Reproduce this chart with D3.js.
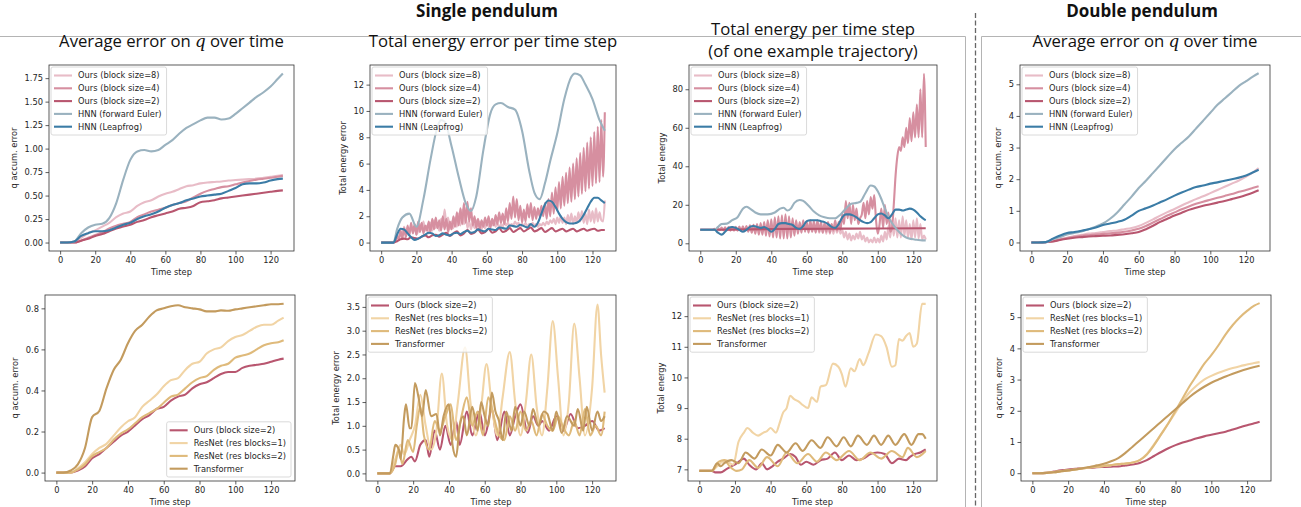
<!DOCTYPE html>
<html>
<head>
<meta charset="utf-8">
<script src="https://cdnjs.cloudflare.com/ajax/libs/d3/7.8.5/d3.min.js"></script>
<style>
  body { margin: 0; background: #fff; }
  svg text { font-family: "DejaVu Sans", sans-serif; }
</style>
</head>
<body>
<div id="fig"></div>
<script>
// SVG layout
var svgWidth = 1301;
var svgHeight = 507;

var xTicks = [0, 20, 40, 60, 80, 100, 120];
var xDomain = [-6.35, 133.35];

var colors = {
  ours8: "#e8bcc7",
  ours4: "#d68fa0",
  ours2: "#b8566f",
  euler: "#9ab2bf",
  leap: "#3b7ca6",
  res1: "#f1d4a5",
  res2: "#dfba7b",
  trans: "#c39b5e"
};

var names = {
  ours8: "Ours (block size=8)",
  ours4: "Ours (block size=4)",
  ours2: "Ours (block size=2)",
  euler: "HNN (forward Euler)",
  leap: "HNN (Leapfrog)",
  res1: "ResNet (res blocks=1)",
  res2: "ResNet (res blocks=2)",
  trans: "Transformer"
};

// sampled time steps used by the smooth curves
var stepsCoarse = [0, 4, 8, 12, 16, 20, 24, 28, 32, 36, 40, 44, 48, 52, 56, 60, 64,
  68, 72, 76, 80, 84, 88, 92, 96, 100, 104, 108, 112, 116, 120, 124, 127];
var stepsAll = d3.range(128);

// ---- single pendulum, average error on q ----
var sqOurs8 = [0, 0, 0.01, 0.05, 0.1, 0.13, 0.17, 0.21, 0.27, 0.31, 0.33, 0.39, 0.43, 0.45, 0.49, 0.52, 0.54,
  0.57, 0.6, 0.61, 0.63, 0.64, 0.645, 0.65, 0.66, 0.665, 0.67, 0.675, 0.68, 0.69, 0.70, 0.71, 0.72];
var sqOurs4 = [0, 0, 0, 0.02, 0.05, 0.08, 0.11, 0.15, 0.18, 0.2, 0.22, 0.27, 0.3, 0.33, 0.35, 0.37, 0.4,
  0.42, 0.44, 0.48, 0.52, 0.55, 0.57, 0.59, 0.6, 0.62, 0.64, 0.655, 0.67, 0.68, 0.69, 0.70, 0.71];
var sqOurs2 = [0, 0, 0, 0.02, 0.04, 0.07, 0.09, 0.12, 0.15, 0.17, 0.19, 0.22, 0.24, 0.27, 0.29, 0.31, 0.33,
  0.36, 0.37, 0.39, 0.43, 0.44, 0.45, 0.47, 0.48, 0.49, 0.50, 0.51, 0.52, 0.53, 0.54, 0.55, 0.555];
var sqEuler = [0, 0, 0.01, 0.1, 0.16, 0.19, 0.2, 0.26, 0.42, 0.67, 0.88, 0.97, 0.985, 0.97, 0.985, 1.04, 1.09,
  1.16, 1.22, 1.26, 1.3, 1.33, 1.33, 1.31, 1.32, 1.37, 1.43, 1.49, 1.55, 1.6, 1.66, 1.74, 1.8];
var sqLeap = [0, 0, 0.01, 0.07, 0.1, 0.12, 0.12, 0.13, 0.16, 0.19, 0.21, 0.25, 0.28, 0.3, 0.33, 0.37, 0.4,
  0.42, 0.45, 0.47, 0.49, 0.5, 0.51, 0.52, 0.55, 0.58, 0.62, 0.63, 0.63, 0.64, 0.66, 0.675, 0.68];

// ---- single pendulum, total energy error ----
var seOurs8 = [0, 0, 0, 0, 0, 0, 0, 0,
  0.2, 0.6, 0.3, 0.9, 0.6, 1.2, 0.7, 1.0,
  0.6, 1.3, 0.8, 1.2, 0.6, 0.9, 1.4, 1.0,
  1.6, 0.9, 1.3, 0.7, 1.5, 0.9, 1.7, 1.1,
  1.5, 0.9, 1.8, 1.2, 2.5, 1.4, 1.9, 1.0,
  1.6, 1.1, 1.9, 1.2, 2.2, 1.3, 2.5, 1.4,
  2.0, 1.1, 1.6, 1.0, 1.5, 1.1, 1.7, 1.2,
  1.6, 1.0, 1.4, 1.1, 1.5, 1.2, 1.6, 1.3,
  1.7, 1.2, 1.5, 1.1, 1.4, 1.2, 1.6, 1.3,
  1.5, 1.2, 1.4, 1.3, 1.6, 1.4, 1.5, 1.2,
  1.4, 1.3, 1.5, 1.2, 1.4, 1.3, 1.5, 1.3,
  1.4, 1.2, 1.4, 1.3, 1.5, 1.3, 1.6, 1.4,
  1.7, 1.5, 1.8, 1.4, 1.9, 1.5, 2.0, 1.5,
  1.9, 1.4, 2.1, 1.5, 2.2, 1.4, 2.0, 1.5,
  2.3, 1.6, 2.4, 1.5, 2.2, 1.4, 2.5, 1.6,
  2.4, 1.5, 2.6, 1.6, 2.3, 1.7, 1.6, 3.2];
var seOurs4 = [0, 0, 0, 0, 0, 0, 0, 0,
  0.1, 0.5, 0.2, 0.9, 0.3, 1.1, 0.4, 1.3,
  0.6, 1.5, 0.7, 1.4, 0.6, 1.6, 0.8, 1.5,
  0.7, 1.3, 0.9, 1.6, 0.8, 1.8, 1.0, 1.9,
  1.1, 1.7, 0.9, 2.0, 1.0, 1.8, 0.8, 1.6,
  1.0, 2.0, 1.2, 2.3, 1.3, 2.6, 1.4, 3.0,
  1.5, 3.1, 1.6, 2.6, 1.3, 2.0, 1.1, 1.8,
  1.0, 1.7, 1.2, 1.9, 1.3, 2.0, 1.1, 1.8,
  1.3, 2.1, 1.4, 2.3, 1.5, 2.2, 1.4, 2.6,
  1.6, 3.0, 1.8, 3.5, 1.9, 3.3, 1.7, 2.8,
  1.5, 2.5, 1.6, 2.9, 1.9, 3.0, 1.7, 2.7,
  1.8, 2.6, 2.0, 2.8, 2.0, 3.0, 1.8, 3.3,
  2.0, 3.8, 2.2, 4.2, 2.4, 4.6, 2.6, 5.0,
  2.8, 5.3, 3.0, 5.7, 3.1, 6.0, 3.3, 6.4,
  3.5, 6.8, 3.7, 7.2, 3.9, 7.6, 4.1, 8.0,
  4.3, 8.4, 4.5, 8.8, 4.6, 9.3, 5.0, 9.9];
var seOurs2Steps = [0, 7, 9, 11, 13, 15, 17, 19, 21, 23, 25, 27, 29, 31, 33, 35, 37, 39, 41, 43, 45, 47, 49,
  51, 53, 55, 57, 59, 61, 63, 65, 67, 69, 71, 73, 75, 77, 79, 81, 83, 85, 87, 89, 91, 93, 95, 97, 99,
  101, 103, 105, 107, 109, 111, 113, 115, 117, 119, 121, 123, 125, 127];
var seOurs2 = [0, 0, 0.1, 0.25, 0.3, 0.25, 0.4, 0.35, 0.3, 0.45, 0.55, 0.4, 0.55, 0.6, 0.45, 0.6, 0.75, 0.5,
  0.7, 0.85, 0.55, 0.7, 0.95, 0.65, 0.75, 1.0, 0.7, 0.8, 1.05, 0.75, 0.85, 1.1, 0.8, 0.9, 1.1, 0.8, 0.95,
  1.1, 0.85, 1.0, 1.15, 0.85, 0.95, 1.1, 0.8, 0.95, 1.1, 0.85, 0.95, 1.05, 0.85, 0.95, 1.05, 0.85, 0.95,
  1.05, 0.9, 1.0, 1.05, 0.9, 0.95, 0.95];
var seEulerSteps = [0, 7, 9, 12, 16, 20, 24, 28, 32, 34, 36, 40, 44, 48, 51, 54, 58, 62, 65, 68, 72, 76,
  80, 84, 87, 90, 93, 96, 100, 104, 108, 110, 113, 116, 120, 124, 127];
var seEuler = [0, 0, 1.0, 1.9, 2.2, 1.2, 3.3, 6.3, 8.8, 9.3, 9.2, 7.3, 5.0, 3.0, 2.4, 3.5, 7.0, 9.8, 10.5,
  10.6, 10.3, 10.1, 8.5, 5.5, 3.8, 3.3, 4.5, 6.2, 8.3, 10.9, 12.6, 12.85, 12.7, 12.0, 10.9, 9.3, 8.5];
var seLeapSteps = [0, 7, 9, 11, 13, 15, 17, 19, 21, 23, 25, 27, 29, 31, 33, 35, 37, 39, 41, 43, 45, 47, 49,
  51, 53, 55, 57, 59, 61, 63, 65, 67, 69, 71, 73, 75, 77, 79, 81, 83, 85, 87, 89, 91, 93, 95, 97, 99,
  101, 103, 105, 107, 109, 111, 113, 115, 117, 119, 121, 123, 125, 127];
var seLeap = [0, 0, 0.6, 1.05, 1.0, 0.7, 0.4, 0.2, 0.3, 0.45, 0.6, 0.75, 0.7, 0.5, 0.55, 0.7, 0.6, 0.55,
  0.7, 0.75, 0.65, 0.8, 0.9, 0.75, 0.8, 1.0, 0.9, 0.85, 1.05, 1.0, 0.95, 1.15, 1.1, 1.05, 1.3, 1.25,
  1.2, 1.35, 1.25, 1.15, 1.4, 1.2, 1.5, 2.2, 2.9, 3.2, 3.1, 2.7, 2.2, 1.8, 1.55, 1.45, 1.45, 1.5, 1.7,
  2.1, 2.6, 3.1, 3.4, 3.4, 3.2, 3.0];

// ---- single pendulum, total energy of one trajectory ----
var stOurs8Steps = [0, 20, 40, 58].concat(d3.range(60, 128));
var stOurs8 = [7, 7, 7.3, 7.5,
  8, 6.5, 8.5, 6, 9, 6, 9.5, 5.5, 9.5, 5.5, 10, 5, 10, 5, 9.5, 5, 9, 5.5, 8.5, 5,
  7, 3, 6, 2, 5, 1.5, 4, 2, 5, 2.5, 6, 2, 4, 1, 3, 0.5, 2, 0.5, 3, 0.5,
  2.5, 0.5, 4, 1, 6, 2, 9, 3, 12, 4, 13, 3, 12, 3, 14, 4, 12, 3, 10, 2,
  12, 3, 13, 2.5, 10, 2, 4, 2];
var stOurs4 = [7, 7, 7, 7, 7, 7, 7, 7,
  7.5, 6.8, 8.0, 6.8, 8.2, 6.7, 8.3, 6.7,
  8.4, 6.6, 8.5, 6.6, 8.6, 6.5, 8.7, 6.4,
  8.8, 6.3, 9.0, 6.0, 9.3, 5.5, 9.6, 5.0,
  10.0, 4.5, 10.5, 4.5, 11.0, 4.0, 12.0, 3.5,
  12.5, 3.0, 13.5, 3.0, 14.0, 2.5, 14.5, 2.5,
  15.0, 2.5, 14.0, 3.0, 13.0, 4.0, 12.0, 5.0,
  11.0, 5.5, 12.0, 6.0, 11.0, 5.5, 12.0, 6.0,
  11.5, 5.5, 12.0, 6.0, 11.0, 5.5, 10.5, 6.0,
  11.0, 5.5, 10.0, 6.5, 12.0, 6.5, 11.0, 7.0,
  15.0, 10.0, 22.0, 13.0, 21.0, 10.0, 20.0, 12.0,
  18.0, 10.0, 13.0, 15.0, 21.0, 13.0, 22.0, 15.0,
  24.0, 18.0, 25.0, 12.0, 5.0, 10.0, 18.0, 8.0,
  20.0, 10.0, 16.0, 6.0, 8.0, 20.0, 35.0, 45.0,
  50.0, 48.0, 55.0, 50.0, 60.0, 52.0, 65.0, 53.0,
  68.0, 55.0, 72.0, 55.0, 80.0, 55.0, 88.0, 50.0];
var stOurs2Steps = [0, 10, 20, 40, 60, 80, 100, 127];
var stOurs2 = [7, 7, 7.2, 7.4, 7.5, 7.6, 7.7, 7.8];
var stEulerSteps = [0, 8, 10, 12, 15, 18, 21, 24, 26, 28, 31, 34, 38, 42, 45, 47, 49, 51, 53, 56, 58, 61,
  64, 67, 70, 73, 76, 79, 82, 85, 88, 90, 93, 96, 98, 100, 102, 104, 107, 110, 113, 116, 119, 122, 125, 127];
var stEuler = [7, 7, 8.5, 10, 10.2, 12, 13.5, 18, 19, 18, 16, 15, 15, 16, 18, 18.5, 17, 18, 21, 22.5, 22,
  19.5, 16.5, 14.5, 13.5, 13, 13, 15, 18, 20.5, 21, 21.5, 26, 30, 29.5, 27, 23, 18, 12, 8, 5, 3, 2.2,
  1.8, 1.5, 1.5];
var stLeapSteps = [0, 8, 10, 12, 14, 16, 18, 20, 22, 24, 26, 28, 30, 32, 34, 36, 38, 40, 42, 44, 46, 48, 50,
  52, 54, 56, 58, 60, 62, 64, 66, 68, 70, 72, 74, 76, 78, 80, 82, 84, 86, 88, 90, 92, 94, 96, 98, 100,
  102, 104, 106, 108, 110, 112, 114, 116, 118, 120, 122, 124, 126, 127];
var stLeap = [7, 7, 5.5, 4.5, 6, 8, 8.5, 8, 7, 6, 7, 8.5, 9, 8.5, 8, 8.5, 7.5, 6, 7.5, 10, 10.5, 10.5, 10,
  9.5, 8, 7.5, 9, 11.5, 12, 12, 12, 11.5, 11, 10, 8.5, 8, 10, 13.5, 15, 15, 14.5, 13.5, 12, 11, 10.5,
  11, 13, 15, 15.5, 14.5, 13, 15, 17.5, 17.5, 17, 17.5, 18, 17.5, 16, 14, 12.5, 12];

// ---- double pendulum, average error on q ----
var dqOurs8 = [0, 0, 0.01, 0.04, 0.1, 0.15, 0.2, 0.24, 0.28, 0.3, 0.33, 0.36, 0.38, 0.42, 0.46, 0.52, 0.62,
  0.73, 0.85, 0.96, 1.06, 1.17, 1.27, 1.37, 1.46, 1.56, 1.66, 1.76, 1.86, 1.96, 2.08, 2.22, 2.35];
var dqOurs4 = [0, 0, 0.01, 0.04, 0.09, 0.14, 0.18, 0.21, 0.23, 0.25, 0.27, 0.29, 0.31, 0.34, 0.38, 0.43, 0.52,
  0.63, 0.74, 0.85, 0.95, 1.05, 1.14, 1.22, 1.29, 1.35, 1.41, 1.47, 1.53, 1.6, 1.66, 1.73, 1.78];
var dqOurs2 = [0, 0, 0.01, 0.03, 0.08, 0.12, 0.15, 0.17, 0.19, 0.2, 0.21, 0.22, 0.24, 0.26, 0.29, 0.33, 0.42,
  0.53, 0.65, 0.75, 0.85, 0.94, 1.03, 1.1, 1.16, 1.21, 1.26, 1.31, 1.37, 1.43, 1.5, 1.58, 1.65];
var dqEuler = [0, 0, 0.01, 0.1, 0.17, 0.25, 0.3, 0.35, 0.42, 0.5, 0.6, 0.75, 0.95, 1.2, 1.45, 1.72, 1.95,
  2.2, 2.45, 2.7, 2.95, 3.15, 3.35, 3.6, 3.85, 4.1, 4.35, 4.55, 4.75, 4.95, 5.1, 5.25, 5.35];
var dqLeap = [0, 0, 0.01, 0.12, 0.22, 0.3, 0.33, 0.37, 0.42, 0.47, 0.55, 0.6, 0.65, 0.72, 0.85, 1.0, 1.08,
  1.17, 1.27, 1.37, 1.48, 1.58, 1.67, 1.75, 1.8, 1.86, 1.9, 1.95, 2.0, 2.05, 2.12, 2.22, 2.3];

// ---- baselines: single pendulum, average error on q ----
var bqOurs2 = [0, 0, 0, 0.01, 0.03, 0.07, 0.09, 0.12, 0.15, 0.18, 0.2, 0.23, 0.26, 0.28, 0.31, 0.32, 0.35,
  0.37, 0.38, 0.41, 0.43, 0.44, 0.46, 0.48, 0.49, 0.49, 0.51, 0.52, 0.525, 0.53, 0.54, 0.55, 0.555];
var bqRes1 = [0, 0, 0, 0.02, 0.05, 0.09, 0.12, 0.14, 0.18, 0.22, 0.25, 0.27, 0.32, 0.35, 0.38, 0.42, 0.45,
  0.46, 0.5, 0.53, 0.54, 0.58, 0.6, 0.61, 0.64, 0.66, 0.67, 0.69, 0.71, 0.72, 0.72, 0.74, 0.755];
var bqRes2 = [0, 0, 0, 0.015, 0.04, 0.08, 0.1, 0.12, 0.16, 0.19, 0.21, 0.24, 0.27, 0.29, 0.31, 0.34, 0.37,
  0.38, 0.41, 0.44, 0.46, 0.47, 0.5, 0.52, 0.53, 0.56, 0.57, 0.58, 0.6, 0.62, 0.63, 0.635, 0.645];
var bqTrans = [0, 0, 0.01, 0.04, 0.12, 0.27, 0.3, 0.41, 0.5, 0.55, 0.63, 0.69, 0.72, 0.76, 0.79, 0.80, 0.81,
  0.815, 0.805, 0.80, 0.795, 0.785, 0.785, 0.79, 0.788, 0.795, 0.80, 0.805, 0.81, 0.815, 0.82, 0.82, 0.822];

// ---- baselines: single pendulum, total energy error ----
var beOurs2Steps = [0, 7, 10, 13, 17, 19, 21, 24, 27, 29, 32, 35, 38, 41, 44, 46, 50, 53, 57, 60, 64, 67, 71,
  74, 77, 80, 84, 87, 90, 92, 96, 100, 104, 108, 112, 116, 120, 124, 127];
var beOurs2 = [0, 0, 0.15, 0.15, 0.3, 0.35, 0.25, 0.6, 0.7, 0.35, 0.9, 0.5, 1.0, 0.6, 1.1, 0.6, 1.3, 0.8, 1.3,
  0.8, 1.35, 0.7, 1.3, 0.8, 1.2, 1.45, 0.85, 1.2, 1.0, 1.1, 0.9, 1.2, 0.9, 1.25, 0.95, 1.0, 1.1, 0.9, 0.95];
var beRes1Steps = [0, 7, 10, 13, 15, 18, 21, 24, 27, 30, 33, 36, 39, 42, 45, 49, 52, 55, 58, 61, 64, 67, 70,
  74, 77, 80, 83, 86, 89, 92, 95, 98, 101, 104, 107, 110, 113, 116, 120, 123, 125, 127];
var beRes1 = [0, 0, 0.3, 0.6, 0.4, 0.7, 1.0, 1.65, 1.0, 0.5, 0.9, 2.1, 1.0, 0.7, 1.5, 2.65, 1.5, 0.8, 1.4,
  2.3, 1.4, 0.8, 1.6, 2.55, 1.5, 0.8, 1.5, 2.5, 1.4, 0.8, 1.8, 3.2, 2.0, 0.8, 1.5, 3.15, 2.0, 0.8, 1.8,
  3.55, 2.5, 1.7];
var beRes2Steps = [0, 7, 10, 12, 14, 17, 20, 22, 24, 26, 29, 32, 35, 38, 41, 44, 47, 50, 53, 56, 59, 62, 65,
  68, 71, 74, 77, 80, 83, 86, 89, 92, 95, 98, 101, 104, 107, 110, 113, 116, 119, 122, 125, 127];
var beRes2 = [0, 0, 0.2, 0.5, 0.2, 0.7, 0.45, 1.0, 1.4, 0.8, 0.5, 1.1, 0.9, 1.2, 1.45, 0.7, 1.2, 1.6, 1.0,
  1.3, 0.8, 1.6, 1.2, 0.8, 0.7, 1.2, 0.9, 1.3, 0.9, 1.1, 0.8, 1.25, 1.0, 0.9, 1.2, 0.95, 0.8, 1.1, 0.8,
  1.35, 0.8, 1.0, 0.8, 1.3];
var beTransSteps = [0, 7, 9, 10, 12, 13, 15, 16, 18, 19, 21, 23, 25, 27, 30, 33, 35, 37, 40, 42, 44, 46, 48,
  50, 53, 56, 58, 60, 62, 64, 66, 68, 70, 72, 75, 77, 80, 82, 85, 87, 90, 93, 95, 98, 100, 103, 106, 110,
  112, 115, 117, 120, 123, 125, 127];
var beTrans = [0, 0, 0.4, 0.6, 0.5, 0.3, 1.2, 1.45, 0.95, 0.95, 1.9, 1.6, 1.2, 1.75, 1.2, 1.25, 0.8, 1.2,
  1.45, 0.6, 0.35, 1.0, 1.2, 0.8, 1.4, 0.9, 1.5, 1.2, 1.0, 1.7, 1.3, 1.1, 0.7, 1.3, 0.9, 1.4, 1.0, 1.3,
  1.0, 1.35, 1.0, 1.3, 1.25, 0.9, 1.3, 0.85, 1.2, 1.0, 1.35, 0.9, 1.4, 0.9, 1.3, 1.1, 1.2];

// ---- baselines: total energy of one trajectory ----
var btOurs2Steps = [0, 7, 9, 12, 15, 18, 21, 25, 28, 32, 35, 38, 41, 44, 47, 51, 54, 57, 60, 64, 68, 72, 76,
  80, 84, 88, 92, 96, 100, 104, 108, 112, 116, 118, 121, 124, 127];
var btOurs2 = [6.95, 6.95, 6.9, 6.9, 7.0, 7.1, 7.2, 7.35, 7.15, 7.0, 7.2, 7.0, 7.1, 7.25, 7.35, 7.5, 7.4,
  7.15, 7.25, 7.15, 7.3, 7.35, 7.55, 7.3, 7.45, 7.3, 7.35, 7.5, 7.55, 7.5, 7.2, 7.35, 7.3, 7.4, 7.5,
  7.55, 7.65];
var btRes1Steps = [0, 7, 10, 13, 15, 17, 19, 22, 25, 27, 30, 33, 36, 38, 40, 43, 45, 47, 49, 51, 53, 56, 58,
  61, 63, 66, 68, 71, 75, 78, 80, 82, 85, 87, 90, 92, 95, 99, 102, 105, 108, 110, 112, 114, 116, 118,
  120, 122, 125, 127];
var btRes1 = [6.95, 6.95, 7.1, 7.25, 7.3, 7.2, 7.15, 7.9, 8.2, 8.35, 8.2, 8.1, 8.2, 8.25, 8.35, 8.2, 8.5,
  8.85, 9.0, 9.4, 9.3, 9.2, 9.1, 9.0, 9.35, 9.2, 9.7, 9.75, 10.45, 10.35, 10.1, 9.7, 10.3, 10.2, 10.6,
  10.4, 10.8, 11.4, 11.35, 11.0, 10.35, 10.4, 11.25, 11.2, 11.35, 11.45, 11.0, 11.1, 12.4, 12.4];
var btRes2Steps = [0, 7, 11, 14, 17, 21, 24, 28, 33, 38, 44, 49, 55, 61, 66, 71, 77, 84, 90, 96, 102, 108,
  114, 117, 122, 127];
var btRes2 = [6.95, 6.95, 7.25, 7.3, 7.1, 6.95, 7.0, 7.3, 7.05, 7.4, 7.1, 7.55, 7.2, 7.5, 7.25, 7.55, 7.3,
  7.6, 7.3, 7.55, 7.35, 7.6, 7.4, 7.7, 7.4, 7.6];
var btTransSteps = [0, 7, 10, 12, 14, 18, 22, 26, 31, 35, 40, 44, 49, 54, 58, 63, 68, 72, 77, 81, 85, 89,
  94, 98, 102, 106, 110, 115, 119, 123, 125, 127];
var btTrans = [6.95, 6.95, 7.2, 7.1, 7.2, 7.3, 7.2, 7.55, 7.35, 7.65, 7.45, 7.8, 7.55, 7.85, 7.6, 7.95, 7.7,
  8.05, 7.75, 8.05, 7.75, 8.1, 7.8, 8.1, 7.8, 8.1, 7.8, 8.15, 7.8, 8.15, 8.15, 8.0];

// ---- baselines: double pendulum, average error on q ----
var bdOurs2 = [0, 0, 0.01, 0.05, 0.09, 0.12, 0.14, 0.16, 0.17, 0.19, 0.2, 0.21, 0.22, 0.25, 0.28, 0.33, 0.42,
  0.55, 0.68, 0.8, 0.9, 0.98, 1.05, 1.12, 1.18, 1.23, 1.28, 1.33, 1.4, 1.47, 1.54, 1.6, 1.65];
var bdRes1 = [0, 0, 0.01, 0.03, 0.06, 0.09, 0.12, 0.15, 0.18, 0.21, 0.23, 0.26, 0.29, 0.31, 0.34, 0.42, 0.62,
  0.92, 1.25, 1.6, 1.95, 2.3, 2.6, 2.82, 3.0, 3.12, 3.22, 3.3, 3.37, 3.43, 3.48, 3.53, 3.56];
var bdRes2 = [0, 0, 0.01, 0.03, 0.06, 0.09, 0.12, 0.15, 0.18, 0.21, 0.23, 0.26, 0.29, 0.31, 0.34, 0.42, 0.6,
  0.9, 1.25, 1.6, 2.0, 2.4, 2.8, 3.15, 3.5, 3.78, 4.1, 4.45, 4.75, 5.0, 5.2, 5.37, 5.45];
var bdTrans = [0, 0, 0.01, 0.03, 0.06, 0.09, 0.12, 0.16, 0.2, 0.25, 0.3, 0.38, 0.48, 0.65, 0.85, 1.05, 1.25,
  1.45, 1.65, 1.85, 2.05, 2.25, 2.45, 2.62, 2.77, 2.9, 3.0, 3.1, 3.19, 3.27, 3.34, 3.4, 3.44];

function s(key, xs, ys) {
  return { key: key, xs: xs, ys: ys };
}

var panels = [
  { left: 49, top: 65, width: 245, height: 186, yDomain: [-0.09, 1.89],
    yTicks: [0, 0.25, 0.5, 0.75, 1, 1.25, 1.5, 1.75], yFormat: ".2f", ylabel: "q accum. error",
    title: ["Average error on ", "q", " over time"], legend: "ul",
    series: [s("ours8", stepsCoarse, sqOurs8), s("ours4", stepsCoarse, sqOurs4), s("ours2", stepsCoarse, sqOurs2),
             s("euler", stepsCoarse, sqEuler), s("leap", stepsCoarse, sqLeap)] },
  { left: 370, top: 65, width: 246, height: 186, yDomain: [-0.64, 13.49],
    yTicks: [0, 2, 4, 6, 8, 10, 12], yFormat: "d", ylabel: "Total energy error",
    title: ["Total energy error per time step"], legend: "ul",
    series: [s("ours8", stepsAll, seOurs8), s("ours4", stepsAll, seOurs4), s("ours2", seOurs2Steps, seOurs2),
             s("euler", seEulerSteps, seEuler), s("leap", seLeapSteps, seLeap)] },
  { left: 689, top: 65, width: 248, height: 186, yDomain: [-4, 92.6],
    yTicks: [0, 20, 40, 60, 80], yFormat: "d", ylabel: "Total energy",
    title: ["Total energy per time step", "(of one example trajectory)"], legend: "ul",
    series: [s("ours8", stOurs8Steps, stOurs8), s("ours4", stepsAll, stOurs4), s("ours2", stOurs2Steps, stOurs2),
             s("euler", stEulerSteps, stEuler), s("leap", stLeapSteps, stLeap)] },
  { left: 1020, top: 65, width: 250, height: 186, yDomain: [-0.27, 5.61],
    yTicks: [0, 1, 2, 3, 4, 5], yFormat: "d", ylabel: "q accum. error",
    title: ["Average error on ", "q", " over time"], legend: "ul",
    series: [s("ours8", stepsCoarse, dqOurs8), s("ours4", stepsCoarse, dqOurs4), s("ours2", stepsCoarse, dqOurs2),
             s("euler", stepsCoarse, dqEuler), s("leap", stepsCoarse, dqLeap)] },
  { left: 45, top: 295, width: 250, height: 186, yDomain: [-0.041, 0.865],
    yTicks: [0, 0.2, 0.4, 0.6, 0.8], yFormat: ".1f", ylabel: "q accum. error", legend: "lr",
    series: [s("ours2", stepsCoarse, bqOurs2), s("res1", stepsCoarse, bqRes1),
             s("res2", stepsCoarse, bqRes2), s("trans", stepsCoarse, bqTrans)] },
  { left: 366, top: 295, width: 250, height: 186, yDomain: [-0.16, 3.75],
    yTicks: [0, 0.5, 1, 1.5, 2, 2.5, 3, 3.5], yFormat: ".1f", ylabel: "Total energy error", legend: "ul",
    series: [s("ours2", beOurs2Steps, beOurs2), s("res1", beRes1Steps, beRes1),
             s("res2", beRes2Steps, beRes2), s("trans", beTransSteps, beTrans)] },
  { left: 688, top: 295, width: 249, height: 186, yDomain: [6.62, 12.69],
    yTicks: [7, 8, 9, 10, 11, 12], yFormat: "d", ylabel: "Total energy", legend: "ul",
    series: [s("ours2", btOurs2Steps, btOurs2), s("res1", btRes1Steps, btRes1),
             s("res2", btRes2Steps, btRes2), s("trans", btTransSteps, btTrans)] },
  { left: 1021, top: 295, width: 250, height: 186, yDomain: [-0.25, 5.71],
    yTicks: [0, 1, 2, 3, 4, 5], yFormat: "d", ylabel: "q accum. error", legend: "ul",
    series: [s("ours2", stepsCoarse, bdOurs2), s("res1", stepsCoarse, bdRes1),
             s("res2", stepsCoarse, bdRes2), s("trans", stepsCoarse, bdTrans)] }
];

var titleFont = "'Open Sans', sans-serif";
var titleSize = "16.7px";

var svg = d3.select("#fig")
  .append("svg")
  .attr("width", svgWidth)
  .attr("height", svgHeight);

// group frames and separator
svg.append("path")
  .attr("d", "M-2,36.5 H965.5 V510")
  .attr("fill", "none").attr("stroke", "#b4b4b4").attr("stroke-width", 1);
svg.append("path")
  .attr("d", "M981.5,510 V36.5 H1303")
  .attr("fill", "none").attr("stroke", "#b4b4b4").attr("stroke-width", 1);
svg.append("line")
  .attr("x1", 975.5).attr("x2", 975.5).attr("y1", 13).attr("y2", 507)
  .attr("stroke", "#666").attr("stroke-width", 1.3).attr("stroke-dasharray", "5,2.5");

// group headings
svg.append("text").attr("x", 487).attr("y", 16.5).attr("text-anchor", "middle")
  .style("font-family", titleFont).style("font-weight", "bold").style("font-size", "17px")
  .attr("fill", "#111").text("Single pendulum");
svg.append("text").attr("x", 1142).attr("y", 16.5).attr("text-anchor", "middle")
  .style("font-family", titleFont).style("font-weight", "bold").style("font-size", "17px")
  .attr("fill", "#111").text("Double pendulum");

function drawPanel(p) {
  var g = svg.append("g").attr("transform", `translate(${p.left}, ${p.top})`);
  var x = d3.scaleLinear().domain(xDomain).range([0, p.width]);
  var y = d3.scaleLinear().domain(p.yDomain).range([p.height, 0]);

  var xAxis = g.append("g")
    .attr("transform", `translate(0, ${p.height})`)
    .call(d3.axisBottom(x).tickValues(xTicks).tickSize(3.5).tickPadding(2.5).tickFormat(d3.format("d")));
  var yAxis = g.append("g")
    .call(d3.axisLeft(y).tickValues(p.yTicks).tickSize(3.5).tickPadding(2.5).tickFormat(d3.format(p.yFormat)));
  [xAxis, yAxis].forEach(function(a) {
    a.select(".domain").remove();
    a.selectAll("line").attr("stroke", "#333").attr("stroke-width", 0.8);
    a.selectAll("text").style("font-size", "8.3px").attr("fill", "#262626")
      .style("font-family", "DejaVu Sans, sans-serif");
  });

  // lines
  var line = d3.line().curve(d3.curveMonotoneX);
  p.series.forEach(function(sr) {
    var pts = sr.xs.map(function(d, i) { return [x(d), y(sr.ys[i])]; });
    g.append("path")
      .attr("d", line(pts))
      .attr("fill", "none")
      .attr("stroke", colors[sr.key])
      .attr("stroke-width", 2.1)
      .attr("stroke-linejoin", "round");
  });

  // frame
  g.append("rect")
    .attr("width", p.width).attr("height", p.height)
    .attr("fill", "none").attr("stroke", "#333").attr("stroke-width", 0.8);

  // axis labels
  var minX = d3.min(yAxis.selectAll("text").nodes(), function(n) { return n.getBBox().x; }) - 3.5;
  g.append("text")
    .attr("transform", `translate(${minX - 4}, ${p.height / 2}) rotate(-90)`)
    .attr("text-anchor", "middle")
    .style("font-size", "8.3px").attr("fill", "#262626")
    .text(p.ylabel);
  g.append("text")
    .attr("x", p.width / 2).attr("y", p.height + 24)
    .attr("text-anchor", "middle")
    .style("font-size", "8.3px").attr("fill", "#262626")
    .text("Time step");

  // title
  if (p.title) {
    var cx = p.width / 2;
    if (p.title.length === 3) {
      var t = g.append("text").attr("x", cx).attr("y", 47 - p.top).attr("text-anchor", "middle")
        .style("font-family", titleFont).style("font-size", titleSize).attr("fill", "#111");
      t.append("tspan").text(p.title[0]);
      t.append("tspan").style("font-family", "DejaVu Serif, serif").style("font-style", "italic").text(p.title[1]);
      t.append("tspan").text(p.title[2]);
    } else if (p.title.length === 2) {
      [35, 57].forEach(function(yy, i) {
        g.append("text").attr("x", cx).attr("y", yy - p.top).attr("text-anchor", "middle")
          .style("font-family", titleFont).style("font-size", titleSize).attr("fill", "#111")
          .text(p.title[i]);
      });
    } else {
      g.append("text").attr("x", cx).attr("y", 47 - p.top).attr("text-anchor", "middle")
        .style("font-family", titleFont).style("font-size", titleSize).attr("fill", "#111")
        .text(p.title[0]);
    }
  }

  // legend
  var lg = g.append("g");
  var box = lg.append("rect");
  var items = lg.selectAll(".item").data(p.series).enter().append("g");
  items.append("line")
    .attr("x1", 3).attr("x2", 21)
    .attr("y1", (d, i) => 8.5 + i * 12.8).attr("y2", (d, i) => 8.5 + i * 12.8)
    .attr("stroke", d => colors[d.key]).attr("stroke-width", 2.1);
  items.append("text")
    .attr("x", 27).attr("y", (d, i) => 8.5 + i * 12.8).attr("dy", "0.35em")
    .style("font-size", "8.3px").attr("fill", "#262626")
    .text(d => names[d.key]);
  var maxW = d3.max(items.selectAll("text").nodes(), n => n.getComputedTextLength());
  var bw = 27 + maxW + 5;
  var bh = p.series.length * 12.8 + 4;
  box.attr("width", bw).attr("height", bh).attr("rx", 2)
    .attr("fill", "#fff").attr("fill-opacity", 0.8)
    .attr("stroke", "#d0d0d0").attr("stroke-width", 0.8);
  if (p.legend === "lr") {
    lg.attr("transform", `translate(${p.width - bw - 4}, ${p.height - bh - 4})`);
  } else {
    lg.attr("transform", "translate(2, 2)");
  }
}

panels.forEach(drawPanel);
</script>
</body>
</html>
